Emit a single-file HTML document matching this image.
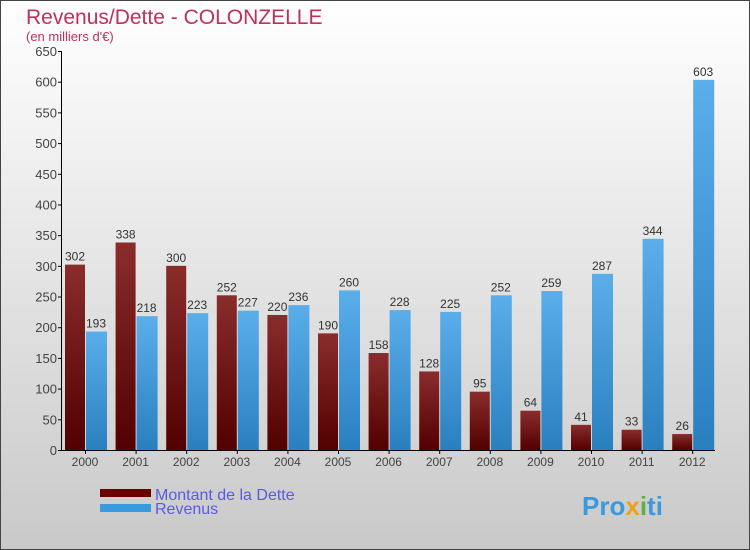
<!DOCTYPE html>
<html><head><meta charset="utf-8"><style>
body{margin:0;width:750px;height:550px;overflow:hidden}
svg{display:block;font-family:"Liberation Sans",sans-serif}
</style></head><body>
<svg id="chart" width="750" height="550">
<defs>
<linearGradient id="bg" x1="0" y1="0" x2="0" y2="1"><stop offset="0" stop-color="#ffffff"/><stop offset="1" stop-color="#c9c9c9"/></linearGradient>
<linearGradient id="gr" x1="0" y1="0" x2="0" y2="1"><stop offset="0" stop-color="#8a2c2c"/><stop offset="1" stop-color="#520000"/></linearGradient>
<linearGradient id="gb" x1="0" y1="0" x2="0" y2="1"><stop offset="0" stop-color="#5aaeea"/><stop offset="1" stop-color="#2a7fbf"/></linearGradient>
</defs>
<rect x="0.5" y="0.5" width="749" height="549" fill="url(#bg)" stroke="#444"/>
<text x="26" y="24" font-size="21" fill="#c0305a">Revenus/Dette - COLONZELLE</text>
<text x="26" y="41" font-size="13" fill="#c0305a">(en milliers d'€)</text>
<g id="axes"></g>
<g id="bars"></g>
<g>
<rect x="100" y="489" width="51" height="8" fill="#6a0000"/>
<text x="155" y="500" font-size="16" fill="#5a5ae8">Montant de la Dette</text>
<rect x="100" y="504" width="51" height="8" fill="#3a9ae0"/>
<text x="155" y="514" font-size="16" fill="#5a5ae8">Revenus</text>
</g>
<text x="582" y="515" font-size="26" font-weight="bold" fill="#3a9ae0">Pro<tspan fill="#f0a020">x</tspan><tspan fill="#60b040">i</tspan>ti</text>
</svg>
<script>
const years=["2000","2001","2002","2003","2004","2005","2006","2007","2008","2009","2010","2011","2012"];
const dette=[302,338,300,252,220,190,158,128,95,64,41,33,26];
const revenus=[193,218,223,227,236,260,228,225,252,259,287,344,603];
const ticks=[0,50,100,150,200,250,300,350,400,450,500,550,600,650];
const NS="http://www.w3.org/2000/svg";
const y0=450,ppu=399/650,x0=85,step=50.6;
const yS=v=>y0-v*ppu, xS=i=>x0+i*step;
function mk(t,a,p,txt){const e=document.createElementNS(NS,t);for(const k in a)e.setAttribute(k,a[k]);if(txt!==undefined)e.textContent=txt;p.appendChild(e);return e;}
const ax=document.getElementById('axes'),bg=document.getElementById('bars');
let e=mk('line',{x1:61.5,y1:yS(650),x2:61.5,y2:y0+0.5,stroke:'#000'},ax);


e=mk('line',{x1:61,y1:y0+0.5,x2:715,y2:y0+0.5,stroke:'#000'},ax);


ticks.forEach(t=>{
 e=mk('line',{x1:58,x2:62,y1:yS(t)+0.5,y2:yS(t)+0.5,stroke:'#000'},ax);
 
 
 e=mk('text',{x:57,y:yS(t)+5,'text-anchor':'end','font-size':13,fill:'#444'},ax,t);
 
 
});
years.forEach((y,i)=>{
 const c=xS(i);
 e=mk('line',{x1:c+0.5,x2:c+0.5,y1:y0,y2:y0+4,stroke:'#000'},ax);
 
 
 e=mk('text',{x:c,y:466,'text-anchor':'middle','font-size':12,fill:'#444'},ax,y);
 
 
 e=mk('rect',{x:c-20,y:yS(dette[i]),width:20,height:dette[i]*ppu,fill:'url(#gr)'},bg);
 
 
 e=mk('rect',{x:c+1,y:yS(revenus[i]),width:21,height:revenus[i]*ppu,fill:'url(#gb)'},bg);
 
 
 e=mk('text',{x:c-10,y:yS(dette[i])-4,'text-anchor':'middle','font-size':12,fill:'#333'},bg,dette[i]);
 
 
 e=mk('text',{x:c+11,y:yS(revenus[i])-4,'text-anchor':'middle','font-size':12,fill:'#333'},bg,revenus[i]);
 
 
});
</script>
</body></html>
